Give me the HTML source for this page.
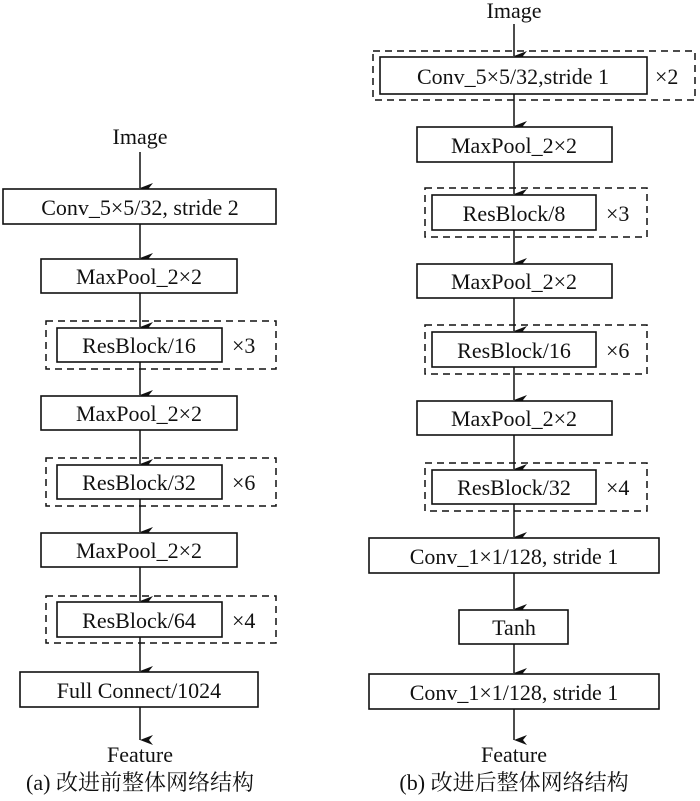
<!DOCTYPE html>
<html><head><meta charset="utf-8"><style>
html,body{margin:0;padding:0;background:#fff;}
svg{display:block;}
text{font-family:"Liberation Serif","Noto Serif CJK SC",serif;font-size:22px;fill:#111;}
.b{fill:#fff;stroke:#111;stroke-width:1.6;}
.d{fill:none;stroke:#111;stroke-width:1.5;stroke-dasharray:7,5;}
.l{stroke:#111;stroke-width:1.5;}
</style></head><body>
<svg width="700" height="801" viewBox="0 0 700 801">
<defs><marker id="a" markerWidth="10" markerHeight="14" refX="5" refY="13" orient="auto" markerUnits="userSpaceOnUse"><path d="M0,0 L5,13 L10,0 L5,4 Z" fill="#111"/></marker></defs>

<!-- left column -->
<text x="140" y="144" text-anchor="middle">Image</text>
<line class="l" x1="140" y1="152" x2="140" y2="188" marker-end="url(#a)"/>
<rect class="b" x="3" y="189" width="273" height="35"/>
<text x="140" y="215" text-anchor="middle">Conv_5×5/32, stride 2</text>
<line class="l" x1="140" y1="224" x2="140" y2="258" marker-end="url(#a)"/>
<rect class="b" x="41" y="259" width="196" height="34"/>
<text x="139" y="284" text-anchor="middle">MaxPool_2×2</text>
<line class="l" x1="140" y1="293" x2="140" y2="327" marker-end="url(#a)"/>
<rect class="d" x="46" y="321" width="230" height="48"/>
<rect class="b" x="57" y="328" width="165" height="34"/>
<text x="139" y="353" text-anchor="middle">ResBlock/16</text>
<text x="232" y="353">×3</text>
<line class="l" x1="140" y1="362" x2="140" y2="395" marker-end="url(#a)"/>
<rect class="b" x="41" y="396" width="196" height="34"/>
<text x="139" y="421" text-anchor="middle">MaxPool_2×2</text>
<line class="l" x1="140" y1="430" x2="140" y2="464" marker-end="url(#a)"/>
<rect class="d" x="46" y="458" width="230" height="48"/>
<rect class="b" x="57" y="465" width="165" height="34"/>
<text x="139" y="490" text-anchor="middle">ResBlock/32</text>
<text x="232" y="490">×6</text>
<line class="l" x1="140" y1="499" x2="140" y2="532" marker-end="url(#a)"/>
<rect class="b" x="41" y="533" width="196" height="34"/>
<text x="139" y="558" text-anchor="middle">MaxPool_2×2</text>
<line class="l" x1="140" y1="567" x2="140" y2="601" marker-end="url(#a)"/>
<rect class="d" x="46" y="596" width="230" height="47"/>
<rect class="b" x="57" y="602" width="165" height="35"/>
<text x="139" y="628" text-anchor="middle">ResBlock/64</text>
<text x="232" y="628">×4</text>
<line class="l" x1="140" y1="637" x2="140" y2="671" marker-end="url(#a)"/>
<rect class="b" x="20" y="672" width="238" height="35"/>
<text x="139" y="698" text-anchor="middle">Full Connect/1024</text>
<line class="l" x1="140" y1="707" x2="140" y2="740" marker-end="url(#a)"/>
<text x="140" y="762" text-anchor="middle">Feature</text>
<text x="140" y="790" text-anchor="middle">(a) 改进前整体网络结构</text>

<!-- right column -->
<text x="514" y="18" text-anchor="middle">Image</text>
<line class="l" x1="514" y1="24" x2="514" y2="56" marker-end="url(#a)"/>
<rect class="d" x="373" y="51" width="322" height="49"/>
<rect class="b" x="380" y="57" width="267" height="37"/>
<text x="513" y="84" text-anchor="middle">Conv_5×5/32,stride 1</text>
<text x="655" y="84">×2</text>
<line class="l" x1="514" y1="94" x2="514" y2="126" marker-end="url(#a)"/>
<rect class="b" x="417" y="127" width="195" height="35"/>
<text x="514" y="153" text-anchor="middle">MaxPool_2×2</text>
<line class="l" x1="514" y1="162" x2="514" y2="194" marker-end="url(#a)"/>
<rect class="d" x="425" y="188" width="222" height="49"/>
<rect class="b" x="432" y="195" width="164" height="35"/>
<text x="514" y="221" text-anchor="middle">ResBlock/8</text>
<text x="606" y="221">×3</text>
<line class="l" x1="514" y1="230" x2="514" y2="263" marker-end="url(#a)"/>
<rect class="b" x="417" y="264" width="195" height="34"/>
<text x="514" y="289" text-anchor="middle">MaxPool_2×2</text>
<line class="l" x1="514" y1="298" x2="514" y2="331" marker-end="url(#a)"/>
<rect class="d" x="425" y="325" width="222" height="49"/>
<rect class="b" x="432" y="332" width="164" height="35"/>
<text x="514" y="358" text-anchor="middle">ResBlock/16</text>
<text x="606" y="358">×6</text>
<line class="l" x1="514" y1="367" x2="514" y2="400" marker-end="url(#a)"/>
<rect class="b" x="417" y="401" width="195" height="34"/>
<text x="514" y="426" text-anchor="middle">MaxPool_2×2</text>
<line class="l" x1="514" y1="435" x2="514" y2="469" marker-end="url(#a)"/>
<rect class="d" x="425" y="463" width="222" height="48"/>
<rect class="b" x="432" y="470" width="164" height="34"/>
<text x="514" y="495" text-anchor="middle">ResBlock/32</text>
<text x="606" y="495">×4</text>
<line class="l" x1="514" y1="504" x2="514" y2="537" marker-end="url(#a)"/>
<rect class="b" x="369" y="538" width="290" height="35"/>
<text x="514" y="564" text-anchor="middle">Conv_1×1/128, stride 1</text>
<line class="l" x1="514" y1="573" x2="514" y2="609" marker-end="url(#a)"/>
<rect class="b" x="459" y="610" width="109" height="34"/>
<text x="514" y="635" text-anchor="middle">Tanh</text>
<line class="l" x1="514" y1="644" x2="514" y2="673" marker-end="url(#a)"/>
<rect class="b" x="369" y="674" width="290" height="35"/>
<text x="514" y="700" text-anchor="middle">Conv_1×1/128, stride 1</text>
<line class="l" x1="514" y1="709" x2="514" y2="740" marker-end="url(#a)"/>
<text x="514" y="762" text-anchor="middle">Feature</text>
<text x="514" y="790" text-anchor="middle">(b) 改进后整体网络结构</text>
</svg>
</body></html>
